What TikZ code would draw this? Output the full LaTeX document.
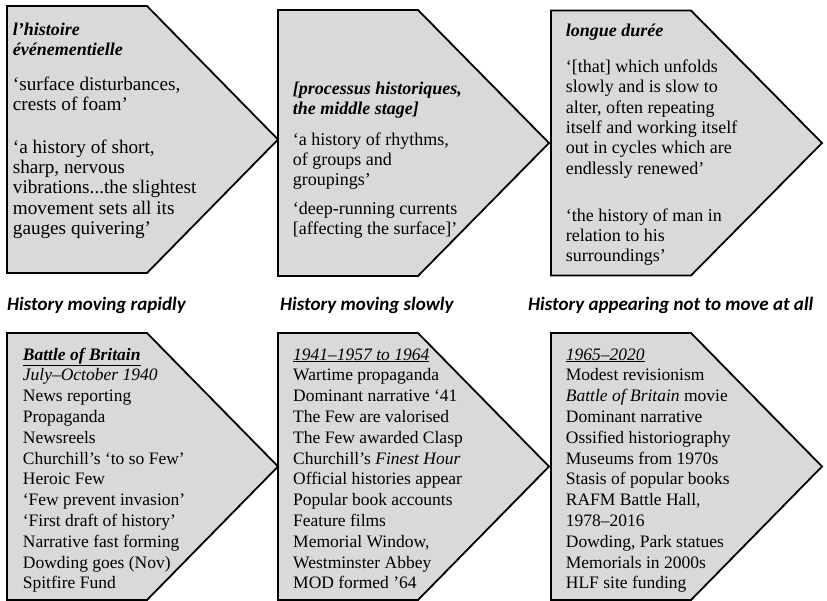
\documentclass[tikz,border=0pt]{standalone}
\usepackage{fontspec}
\setmainfont{Liberation Serif}[BoldFont={Liberation Serif Bold}, ItalicFont={Liberation Serif Italic}, BoldItalicFont={Liberation Serif Bold Italic}]
\newfontfamily\labfont{Carlito}
\definecolor{boxgray}{RGB}{217,217,217}
\newcommand\topsize{\fontsize{18}{20.4}\selectfont}
\newcommand\firstsize{\fontsize{19.2}{20.4}\selectfont}
\newcommand\botsize{\fontsize{17.5}{20.8}\selectfont}
\newcommand\lns[1]{\begin{tabular}[t]{@{}l@{}}#1\end{tabular}}
\begin{document}
\begin{tikzpicture}[x=1pt,y=-1pt,
  chev/.style={draw=black, fill=boxgray, line width=1.8pt, line join=miter},
  ttxt/.style={anchor=base west, inner sep=0pt, font=\topsize},
  ftxt/.style={anchor=base west, inner sep=0pt, font=\firstsize},
  btxt/.style={anchor=base west, inner sep=0pt, font=\botsize},
  lab/.style={anchor=base west, inner sep=0pt, font=\labfont\bfseries\itshape\fontsize{19}{22}\selectfont}]
\useasboundingbox (0,0) rectangle (827,600);
% chevrons: left, top, height
\def\chevron#1#2#3{\path[chev] (#1,#2) -- ++(140,0) -- ++(131,#3/2) -- ++(-131,#3/2) -- ++(-140,0) -- cycle;}
\chevron{7}{6}{267}
\chevron{278}{10}{266}
\chevron{551}{10.5}{265}
\begin{scope}
\clip (0,0) rectangle (827,600);
\chevron{7}{333}{267}
\chevron{278}{333}{267}
\chevron{551}{333}{267}
\end{scope}
% top row texts
\node[ttxt] (a1) at (12.7,35) {\lns{\bfseries\itshape l’histoire\\ \bfseries\itshape événementielle}};
\node[ftxt] (a2) at (12.7,90) {\lns{‘surface disturbances,\\ crests of foam’}};
\node[ftxt] (a3) at (12.7,153) {\lns{‘a history of short,\\ sharp, nervous\\ vibrations...the slightest\\ movement sets all its\\ gauges quivering’}};
\node[ttxt] (b1) at (292.7,94) {\lns{\bfseries\itshape [processus historiques,\\ \bfseries\itshape the middle stage]}};
\node[ttxt] (b2) at (292.7,145) {\lns{‘a history of rhythms,\\ of groups and\\ groupings’}};
\node[ttxt] (b3) at (292.7,214.5) {\lns{‘deep-running currents\\ {}[affecting the surface]’}};
\node[ttxt] (c1) at (565.7,36.7) {\bfseries\itshape longue durée};
\node[ttxt] (c2) at (565.7,72.3) {\lns{‘[that] which unfolds\\ slowly and is slow to\\ alter, often repeating\\ itself and working itself\\ out in cycles which are\\ endlessly renewed’}};
\node[ttxt] (c3) at (565.7,221) {\lns{‘the history of man in\\ relation to his\\ surroundings’}};
% labels
\node[lab] (l1) at (7,310.7) {History moving rapidly};
\node[lab] (l2) at (280,310.7) {History moving slowly};
\node[lab] (l3) at (528,310.7) {History appearing not to move at all};
% bottom row texts
\node[btxt] (d1) at (22.7,360) {\lns{\underline{\bfseries\itshape Battle of Britain}\\ \itshape July–October 1940\\ News reporting\\ Propaganda\\ Newsreels\\ Churchill’s ‘to so Few’\\ Heroic Few\\ ‘Few prevent invasion’\\ ‘First draft of history’\\ Narrative fast forming\\ Dowding goes (Nov)\\ Spitfire Fund}};
\node[btxt] (e1) at (293,360) {\lns{\underline{\itshape 1941–1957 to 1964}\\ Wartime propaganda\\ Dominant narrative ‘41\\ The Few are valorised\\ The Few awarded Clasp\\ Churchill’s \textit{Finest Hour}\\ Official histories appear\\ Popular book accounts\\ Feature films\\ Memorial Window,\\ Westminster Abbey\\ MOD formed ’64}};
\node[btxt] (f1) at (565.7,360) {\lns{\underline{\itshape 1965–2020}\\ Modest revisionism\\ \textit{Battle of Britain} movie\\ Dominant narrative\\ Ossified historiography\\ Museums from 1970s\\ Stasis of popular books\\ RAFM Battle Hall,\\ 1978–2016\\ Dowding, Park statues\\ Memorials in 2000s\\ HLF site funding}};
\end{tikzpicture}
\end{document}
